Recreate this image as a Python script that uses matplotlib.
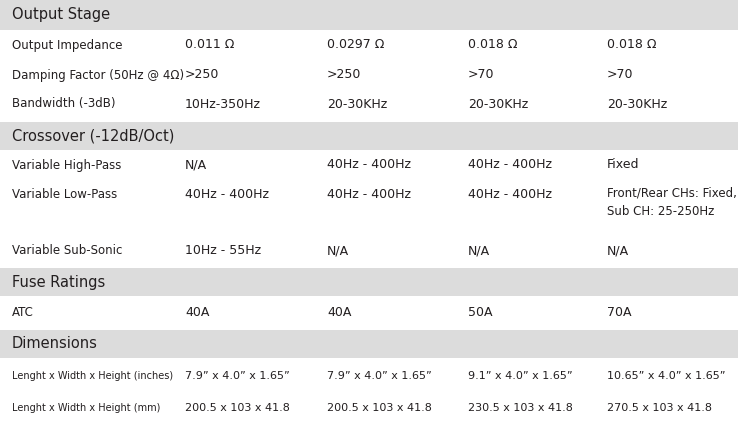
import matplotlib
matplotlib.use('Agg')
import matplotlib.pyplot as plt

W, H = 738, 424
col_x = [12, 185, 327, 468, 607]

# sections: (title, band top, band bottom)
sections = [("Output Stage", 0, 30), ("Crossover (-12dB/Oct)", 122, 150),
            ("Fuse Ratings", 268, 296), ("Dimensions", 330, 358)]

row_labels = ["Output Impedance", "Damping Factor (50Hz @ 4Ω)", "Bandwidth (-3dB)",
              "Variable High-Pass", "Variable Low-Pass", "Variable Sub-Sonic",
              "ATC", "Lenght x Width x Height (inches)", "Lenght x Width x Height (mm)"]
row_y = [45, 75, 104, 165, 195, 251, 312, 376, 408]
row_values = [
    ["0.011 Ω", "0.0297 Ω", "0.018 Ω", "0.018 Ω"],
    [">250", ">250", ">70", ">70"],
    ["10Hz-350Hz", "20-30KHz", "20-30KHz", "20-30KHz"],
    ["N/A", "40Hz - 400Hz", "40Hz - 400Hz", "Fixed"],
    ["40Hz - 400Hz", "40Hz - 400Hz", "40Hz - 400Hz", "Front/Rear CHs: Fixed,\nSub CH: 25-250Hz"],
    ["10Hz - 55Hz", "N/A", "N/A", "N/A"],
    ["40A", "40A", "50A", "70A"],
    ["7.9\u201d x 4.0\u201d x 1.65\u201d", "7.9\u201d x 4.0\u201d x 1.65\u201d",
     "9.1\u201d x 4.0\u201d x 1.65\u201d", "10.65\u201d x 4.0\u201d x 1.65\u201d"],
    ["200.5 x 103 x 41.8", "200.5 x 103 x 41.8", "230.5 x 103 x 41.8", "270.5 x 103 x 41.8"],
]

fig = plt.figure(figsize=(W / 100, H / 100), dpi=100)
ax = fig.add_axes([0, 0, 1, 1])
ax.set_xlim(0, W)
ax.set_ylim(H, 0)
ax.axis('off')

txt = '#231f20'
for title, y0, y1 in sections:
    ax.add_patch(plt.Rectangle((0, y0), W, y1 - y0, color='#dcdcdc', lw=0))
    ax.text(col_x[0], (y0 + y1) / 2, title, fontsize=10.5, color=txt, va='center')

for label, y, vals in zip(row_labels, row_y, row_values):
    small = label.startswith("Lenght")
    ax.text(col_x[0], y, label, fontsize=7 if small else 8.5, color=txt, va='center')
    for x, v in zip(col_x[1:], vals):
        if '\n' in v:
            ax.text(x, y - 9, v, fontsize=8.5, color=txt, va='top', linespacing=1.6)
        else:
            ax.text(x, y, v, fontsize=8 if small else 9, color=txt, va='center')

fig.savefig('out.png', dpi=100)
